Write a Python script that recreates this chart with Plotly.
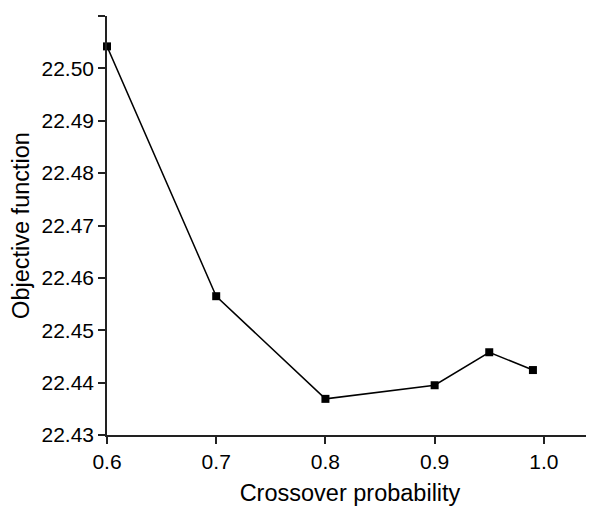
import plotly.graph_objects as go

crossover = [0.6, 0.7, 0.8, 0.9, 0.95, 0.99]
objective = [22.5042, 22.4565, 22.4369, 22.4395, 22.4458, 22.4424]
x_ticks = [0.6, 0.7, 0.8, 0.9, 1.0]
y_ticks = [22.43, 22.44, 22.45, 22.46, 22.47, 22.48, 22.49, 22.50, 22.51]

fig = go.Figure()
fig.add_trace(go.Scatter(
    x=crossover, y=objective, mode="lines+markers",
    line=dict(color="black", width=1.5),
    marker=dict(symbol="square", size=8, color="black"),
    cliponaxis=False,
))

font = dict(family="Liberation Sans, Arial, sans-serif", size=21, color="black")
title_font = dict(family="Liberation Sans, Arial, sans-serif", size=23.5, color="black")
axis_common = dict(
    showline=True, linecolor="#222", linewidth=1.5, showgrid=False, zeroline=False,
    ticks="outside", ticklen=7, tickwidth=1.5, tickcolor="#222", tickfont=font,
)
fig.update_layout(
    width=594, height=508,
    margin=dict(l=99, r=9, t=8, b=81),
    paper_bgcolor="white", plot_bgcolor="white",
    showlegend=False,
    font=font,
    xaxis=dict(range=[0.6, 1.045], tickvals=x_ticks, tickformat=".1f",
               title=dict(text="Crossover probability", font=title_font, standoff=13), **axis_common),
    yaxis=dict(range=[22.43, 22.51], tickvals=y_ticks, tickformat=".2f",
               title=dict(text="Objective function", font=title_font, standoff=8), **axis_common),
)
fig.write_html("out.html")
